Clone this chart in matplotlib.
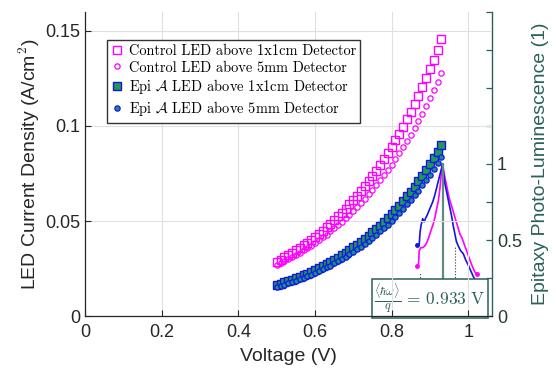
import matplotlib
matplotlib.use("Agg")
import matplotlib.pyplot as plt
from matplotlib.ticker import FixedLocator, FixedFormatter

plt.rcParams['font.family'] = ['Liberation Sans', 'DejaVu Sans']
plt.rcParams['mathtext.fontset'] = 'cm'

# ---------------- data ----------------
voltage = [0.50, 0.51, 0.52, 0.53, 0.54, 0.55, 0.56, 0.57, 0.58, 0.59,
           0.60, 0.61, 0.62, 0.63, 0.64, 0.65, 0.66, 0.67, 0.68, 0.69,
           0.70, 0.71, 0.72, 0.73, 0.74, 0.75, 0.76, 0.77, 0.78, 0.79,
           0.80, 0.81, 0.82, 0.83, 0.84, 0.85, 0.86, 0.87, 0.88, 0.89,
           0.90, 0.91, 0.92, 0.93]

control_1x1 = [0.0286, 0.0297, 0.0309, 0.0320, 0.0333, 0.0345, 0.0359, 0.0373, 0.0387, 0.0402,
               0.0417, 0.0433, 0.0450, 0.0468, 0.0486, 0.0504, 0.0524, 0.0544, 0.0565, 0.0587,
               0.0609, 0.0633, 0.0657, 0.0682, 0.0709, 0.0736, 0.0764, 0.0794, 0.0825, 0.0856,
               0.0889, 0.0924, 0.0959, 0.0996, 0.1035, 0.1075, 0.1116, 0.1159, 0.1204, 0.1250,
               0.1299, 0.1349, 0.1401, 0.1455]

control_5mm = [0.0268, 0.0278, 0.0288, 0.0299, 0.0310, 0.0321, 0.0333, 0.0345, 0.0358, 0.0371,
               0.0385, 0.0399, 0.0414, 0.0429, 0.0445, 0.0462, 0.0479, 0.0496, 0.0515, 0.0534,
               0.0553, 0.0574, 0.0595, 0.0617, 0.0640, 0.0664, 0.0688, 0.0714, 0.0740, 0.0768,
               0.0796, 0.0825, 0.0856, 0.0888, 0.0920, 0.0954, 0.0990, 0.1026, 0.1064, 0.1104,
               0.1145, 0.1187, 0.1231, 0.1276]

epi_1x1 = [0.0163, 0.0170, 0.0177, 0.0184, 0.0191, 0.0199, 0.0207, 0.0215, 0.0224, 0.0233,
           0.0242, 0.0252, 0.0262, 0.0273, 0.0284, 0.0296, 0.0308, 0.0320, 0.0333, 0.0347,
           0.0361, 0.0375, 0.0391, 0.0406, 0.0423, 0.0440, 0.0458, 0.0476, 0.0496, 0.0516,
           0.0537, 0.0559, 0.0581, 0.0605, 0.0629, 0.0655, 0.0681, 0.0709, 0.0738, 0.0768,
           0.0799, 0.0831, 0.0865, 0.0900]

epi_5mm = [0.0153, 0.0159, 0.0166, 0.0172, 0.0179, 0.0186, 0.0194, 0.0202, 0.0210, 0.0218,
           0.0227, 0.0236, 0.0246, 0.0256, 0.0266, 0.0277, 0.0288, 0.0300, 0.0312, 0.0324,
           0.0337, 0.0351, 0.0365, 0.0380, 0.0395, 0.0411, 0.0428, 0.0445, 0.0463, 0.0481,
           0.0501, 0.0521, 0.0542, 0.0564, 0.0587, 0.0610, 0.0635, 0.0660, 0.0687, 0.0715,
           0.0743, 0.0773, 0.0805, 0.0837]

pl_epi_v = [0.866, 0.872, 0.874, 0.877, 0.881, 0.885, 0.888, 0.892, 0.897, 0.902,
            0.907, 0.912, 0.917, 0.922, 0.927, 0.931, 0.933, 0.936, 0.939, 0.944,
            0.948, 0.953, 0.957, 0.961, 0.965, 0.969, 0.974, 0.980, 0.987, 0.993,
            1.000, 1.006, 1.013, 1.020]
pl_epi = [0.47, 0.47, 0.55, 0.60, 0.64, 0.62, 0.64, 0.66, 0.69, 0.72,
          0.75, 0.79, 0.84, 0.89, 0.94, 0.98, 1.00, 0.93, 0.87, 0.81,
          0.76, 0.70, 0.65, 0.59, 0.54, 0.49, 0.46, 0.43, 0.41, 0.37,
          0.335, 0.30, 0.26, 0.23]

pl_ctrl_v = [0.866, 0.870, 0.872, 0.876, 0.881, 0.886, 0.891, 0.896, 0.901, 0.905,
             0.909, 0.913, 0.917, 0.922, 0.926, 0.929, 0.932, 0.933, 0.936, 0.940,
             0.944, 0.948, 0.952, 0.958, 0.965, 0.971, 0.978, 0.982, 0.984, 0.987,
             0.991, 0.997, 1.004, 1.010, 1.017, 1.022]
pl_ctrl = [0.33, 0.34, 0.43, 0.45, 0.45, 0.46, 0.48, 0.51, 0.55, 0.58,
           0.61, 0.65, 0.70, 0.76, 0.84, 0.92, 0.99, 1.00, 0.95, 0.90,
           0.85, 0.80, 0.76, 0.71, 0.65, 0.60, 0.54, 0.52, 0.51, 0.49,
           0.46, 0.42, 0.37, 0.33, 0.29, 0.28]

mean_energy = 0.933
bound_low_v, bound_low_h = 0.875, 0.29
bound_high_v, bound_high_h = 0.965, 0.46

legend_labels = ["Control LED above 1x1cm Detector",
                 "Control LED above 5mm Detector",
                 r"Epi $\mathcal{A}$ LED above 1x1cm Detector",
                 r"Epi $\mathcal{A}$ LED above 5mm Detector"]

x_ticks = [0, 0.2, 0.4, 0.6, 0.8, 1.0]
x_ticklabels = ["0", "0.2", "0.4", "0.6", "0.8", "1"]
y_ticks = [0, 0.05, 0.1, 0.15]
y_ticklabels = ["0", "0.05", "0.1", "0.15"]
r_ticks = [0, 0.25, 0.5, 0.75, 1.0, 1.25, 1.5, 1.75, 2.0]
r_ticklabels = ["0", "", "0.5", "", "1", "", "", "", ""]

# ---------------- style ----------------
TEAL = '#2a6158'
MAG = '#ff00ff'
BLUE = '#1414e6'
GREEN = '#1f9a55'
DARK = '#262626'

fig = plt.figure(figsize=(5.56, 3.71), dpi=100)
ax = fig.add_axes([0.153, 0.148, 0.732, 0.820])
ax2 = ax.twinx()

ax.set_zorder(2)
ax.patch.set_visible(False)

l1, = ax.plot(voltage, control_1x1, linestyle='none', marker='s', markersize=5.8,
              markerfacecolor='none', markeredgecolor=MAG, markeredgewidth=1.0)
l2, = ax.plot(voltage, control_5mm, linestyle='none', marker='o', markersize=3.8,
              markerfacecolor='none', markeredgecolor=MAG, markeredgewidth=0.9)
l3, = ax.plot(voltage, epi_1x1, linestyle='none', marker='s', markersize=5.8,
              markerfacecolor=GREEN, markeredgecolor=BLUE, markeredgewidth=1.0)
l4, = ax.plot(voltage, epi_5mm, linestyle='none', marker='o', markersize=3.8,
              markerfacecolor='#1a8f8a', markeredgecolor=BLUE, markeredgewidth=0.9)

ax.set_xlim(0, 1.062)
ax.set_ylim(0, 0.16)
ax.xaxis.set_major_locator(FixedLocator(x_ticks))
ax.xaxis.set_major_formatter(FixedFormatter(x_ticklabels))
ax.yaxis.set_major_locator(FixedLocator(y_ticks))
ax.yaxis.set_major_formatter(FixedFormatter(y_ticklabels))
ax.tick_params(axis='both', direction='in', length=4, width=0.8, colors=DARK,
               labelsize=13, labelcolor=DARK)
ax.tick_params(axis='x', pad=6)
ax.grid(True, color='#e0e0e0', linewidth=0.8)
ax.set_axisbelow(True)
for s in ['top', 'right']:
    ax.spines[s].set_visible(False)
for s in ['left', 'bottom']:
    ax.spines[s].set_color(DARK)
    ax.spines[s].set_linewidth(0.9)

ax.set_xlabel("Voltage (V)", fontsize=14, color=DARK, labelpad=5)
ax.set_ylabel(r"LED Current Density (A/cm$^2$)", fontsize=14, color=DARK, labelpad=2)

# right axis: photoluminescence
ax2.plot(pl_ctrl_v, pl_ctrl, color=MAG, linewidth=1.2, marker='o', markersize=2.5,
         markevery=[0, len(pl_ctrl) - 1])
ax2.plot(pl_epi_v, pl_epi, color=BLUE, linewidth=1.2, marker='o', markersize=2.5,
         markevery=[0, len(pl_epi) - 1])
ax2.plot([mean_energy, mean_energy], [0, 1.0], color='#5e8c82', linewidth=1.6)
ax2.plot([bound_low_v, bound_low_v], [0, bound_low_h], color='#333333',
         linestyle=':', linewidth=0.8)
ax2.plot([bound_high_v, bound_high_v], [0, bound_high_h], color='#333333',
         linestyle=':', linewidth=0.8)

ax2.set_ylim(0, 2)
ax2.yaxis.set_major_locator(FixedLocator(r_ticks))
ax2.yaxis.set_major_formatter(FixedFormatter(r_ticklabels))
ax2.tick_params(axis='y', direction='in', length=4, width=0.9, colors=TEAL,
                labelsize=13, labelcolor='#243b37')
for s in ['top', 'left', 'bottom']:
    ax2.spines[s].set_visible(False)
ax2.spines['right'].set_color(TEAL)
ax2.spines['right'].set_linewidth(1.0)
ax2.set_ylabel("Epitaxy Photo-Luminescence (1)", fontsize=14, color=TEAL, labelpad=7)

ax2.text(0.90, 0.118, r"$\frac{\langle\hbar\omega\rangle}{q}\,=\,0.933\ \mathrm{V}$",
         fontsize=12.5, color=TEAL, ha='center', va='center',
         bbox=dict(boxstyle='square,pad=0.15', facecolor='white', edgecolor=TEAL,
                   linewidth=1.1))

leg = ax.legend([l1, l2, l3, l4], legend_labels, loc='upper left',
                bbox_to_anchor=(0.054, 0.908), prop={'family': 'cmr10', 'size': 10.4},
                fancybox=False, framealpha=1, edgecolor='#333333', borderpad=0.3,
                handlelength=0.8, handletextpad=0.4, labelspacing=0.2,
                borderaxespad=0, numpoints=1)
leg.get_frame().set_linewidth(1.0)

fig.savefig("out.png", dpi=100)
